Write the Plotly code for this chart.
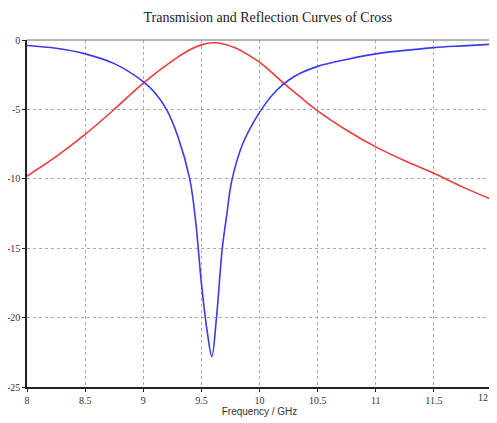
import plotly.graph_objects as go

# Reflection (blue)
refl_f = [8.0, 8.25, 8.5, 8.75, 9.0, 9.1, 9.2, 9.3, 9.4, 9.45, 9.5, 9.55, 9.59,
          9.63, 9.68, 9.72, 9.76, 9.85, 9.95, 10.05, 10.15, 10.25, 10.35, 10.5, 10.75, 11.0, 11.25, 11.5, 11.75, 12.0]
refl_db = [-0.4, -0.6, -1.0, -1.7, -3.0, -3.8, -5.0, -7.0, -10.0, -13.0, -17.5, -21.0, -22.8,
           -20.0, -15.0, -12.5, -10.2, -7.6, -5.9, -4.6, -3.6, -2.9, -2.4, -1.9, -1.4, -1.0, -0.75, -0.55, -0.42, -0.3]

# Transmission (red)
trans_f = [8.0, 8.25, 8.5, 8.75, 9.0, 9.25, 9.4, 9.5, 9.6, 9.7, 9.8, 9.9, 10.0,
           10.1, 10.2, 10.35, 10.5, 10.75, 11.0, 11.25, 11.5, 11.75, 12.0]
trans_db = [-9.8, -8.4, -6.8, -5.0, -3.1, -1.5, -0.7, -0.35, -0.2, -0.3, -0.6, -1.05, -1.6,
            -2.3, -3.05, -4.1, -5.1, -6.5, -7.7, -8.7, -9.6, -10.6, -11.5]

x_ticks = [8, 8.5, 9, 9.5, 10, 10.5, 11, 11.5, 12]
x_tick_text = ["8", "8.5", "9", "9.5", "10", "10.5", "11", "11.5", "12"]
y_ticks = [0, -5, -10, -15, -20, -25]
y_tick_text = ["0", "-5", "-10", "-15", "-20", "-25"]

tick_font = dict(family="Liberation Serif, serif", size=10, color="#333")

fig = go.Figure()
fig.add_trace(go.Scatter(x=trans_f, y=trans_db, mode="lines", line=dict(color="#ee3b3b", width=1.6, shape="spline", smoothing=1.0), name="S21"))
fig.add_trace(go.Scatter(x=refl_f, y=refl_db, mode="lines", line=dict(color="#3b3bee", width=1.6, shape="spline", smoothing=1.0), name="S11"))

fig.update_layout(
    width=489, height=415,
    margin=dict(l=19, r=5, t=32, b=36),
    paper_bgcolor="white", plot_bgcolor="white",
    showlegend=False,
    title=dict(text="Transmision and Reflection Curves of Cross", x=0.518, xref="paper", xanchor="center",
               y=0.978, yref="container", yanchor="middle",
               font=dict(family="Liberation Serif, Times New Roman, serif", size=14, color="#222")),
    xaxis=dict(range=[8, 12], tickvals=x_ticks[:-1], ticktext=x_tick_text[:-1], automargin=False,
               showgrid=True, gridcolor="#aaa", griddash="dot", gridwidth=1,
               showline=True, linecolor="#222", linewidth=1.5, mirror=False,
               ticks="outside", ticklen=3, tickcolor="#222",
               tickfont=tick_font,
               title=dict(text="Frequency / GHz", font=dict(family="Liberation Sans, Arial, sans-serif", size=10, color="#333"), standoff=2),
               zeroline=False),
    yaxis=dict(range=[-25, 0], tickvals=y_ticks, ticktext=y_tick_text, automargin=False,
               showgrid=True, gridcolor="#aaa", griddash="dot", gridwidth=1,
               showline=True, linecolor="#222", linewidth=1.5,
               ticks="outside", ticklen=3, tickcolor="#222",
               tickfont=tick_font,
               zeroline=False),
    shapes=[
        dict(type="line", xref="paper", yref="paper", x0=0, x1=1, y0=1, y1=1, line=dict(color="#999", width=1.5)),
        dict(type="line", xref="paper", yref="paper", x0=1, x1=1, y0=0, y1=1, line=dict(color="#999", width=1.5)),
        dict(type="rect", xref="paper", yref="paper", x0=1.0, x1=1.05, y0=0.922, y1=0.991, line=dict(color="#ee3b3b", width=1.5), fillcolor="white"),
        dict(type="rect", xref="paper", yref="paper", x0=1.0, x1=1.05, y0=0.764, y1=0.919, line=dict(color="#3b3bee", width=1.5), fillcolor="white"),
    ],
    annotations=[
        dict(x=x_ticks[-1], xref="x", y=0, yref="paper", yanchor="top", xanchor="right", xshift=-2, yshift=-3,
             text=x_tick_text[-1], showarrow=False, font=tick_font),
    ],
)

fig.write_html("out.html")
